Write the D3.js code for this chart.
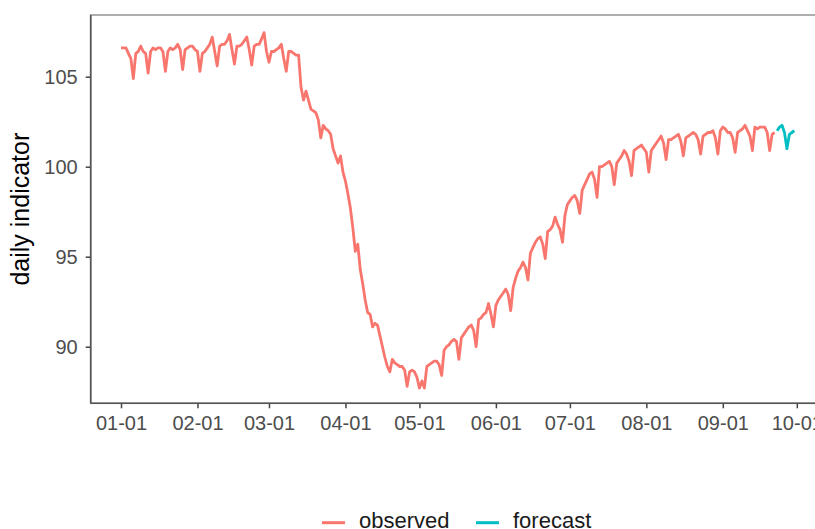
<!DOCTYPE html>
<html>
<head>
<meta charset="utf-8">
<script src="https://cdn.jsdelivr.net/npm/d3@7"></script>
<style>
  body { margin: 0; background: #fff; }
  svg { display: block; font-family: "Liberation Sans", Arial, sans-serif; }
</style>
</head>
<body>
<script>
// day 0 = 2020-01-01
var startDate = Date.UTC(2020, 0, 1);

var observed = [
  106.6, 106.6, 106.6, 106.3,
  106.0, 104.9, 106.3, 106.4, 106.7, 106.4, 106.3,
  105.2, 106.4, 106.6, 106.5, 106.6, 106.6, 106.4,
  105.3, 106.4, 106.6, 106.5, 106.6, 106.8, 106.5,
  105.4, 106.5, 106.6, 106.7, 106.7, 106.5, 106.4,
  105.3, 106.3, 106.4, 106.6, 106.8, 107.2, 106.4,
  105.6, 106.7, 106.8, 106.8, 107.0, 107.35, 106.5,
  105.7, 106.7, 106.7, 106.8, 107.0, 107.2, 106.5,
  105.65, 106.7, 106.8, 106.8, 107.1, 107.45, 106.4,
  105.8, 106.4, 106.4, 106.5, 106.6, 106.8, 106.0,
  105.3, 106.4, 106.4, 106.3, 106.2, 106.2, 104.4,
  103.7, 104.2, 103.7, 103.2, 103.1, 103.0, 102.6,
  101.6, 102.3, 102.1, 102.0, 101.8, 101.0, 100.6,
  100.2, 100.6, 99.7, 99.2, 98.5, 97.7, 96.6,
  95.3, 95.7, 94.3, 93.5, 92.6, 91.9, 91.8,
  91.1, 91.3, 91.2, 90.6, 90.0, 89.4, 88.9,
  88.6, 89.3, 89.1, 89.0, 88.9, 88.9, 88.7,
  87.8, 88.6, 88.7, 88.6, 88.3, 87.7, 88.1,
  87.7, 88.9, 89.0, 89.1, 89.2, 89.2, 89.0,
  88.4, 89.8, 90.0, 90.1, 90.3, 90.4, 90.3,
  89.3, 90.5, 90.7, 90.9, 91.1, 91.2, 90.9,
  90.0, 91.5, 91.6, 91.8, 91.9, 92.4, 91.8,
  91.1, 92.3, 92.6, 92.8, 93.0, 93.2, 92.9,
  92.0, 93.3, 93.8, 94.2, 94.4, 94.7, 94.4,
  93.7, 95.2, 95.5, 95.8, 96.0, 96.1, 95.7,
  94.9, 96.4, 96.5, 96.7, 97.2, 96.8, 96.5,
  95.8, 97.3, 97.9, 98.1, 98.3, 98.4, 98.1,
  97.4, 98.7, 99.0, 99.3, 99.6, 99.7, 99.3,
  98.3, 100.0, 100.0, 100.1, 100.2, 100.3, 100.0,
  99.0, 100.2, 100.4, 100.6, 100.9, 100.7, 100.3,
  99.5, 100.9, 101.0, 101.1, 101.2, 101.0, 100.8,
  99.7, 100.9, 101.1, 101.3, 101.5, 101.7, 101.3,
  100.4, 101.5, 101.5, 101.6, 101.7, 101.8, 101.4,
  100.6, 101.6, 101.7, 101.8, 101.9, 101.8, 101.5,
  100.7, 101.7, 101.8, 101.9, 101.9, 102.0, 101.6,
  100.7, 102.0, 102.2, 102.1, 101.9, 101.9, 101.6,
  100.8, 101.9, 102.0, 102.1, 102.3, 102.0, 101.7,
  100.9, 102.2, 102.1, 102.2, 102.2, 102.2, 101.9,
  100.9, 101.8, 101.9
];

// forecast starts the day after the last observation
var forecast = [102.0, 102.2, 102.3, 101.9, 101.0, 101.8, 101.9, 102.0];

var yTicks = [90, 95, 100, 105];
var seriesNames = ["observed", "forecast"];
var seriesColors = ["#F8766D", "#00BFC4"];

var W = 815, H = 529;
var panel = {left: 90.7, top: 15, right: 825, bottom: 403.3};

function dayToDate(i) { return new Date(startDate + i * 864e5); }

var obsData = observed.map((v, i) => ({date: dayToDate(i), value: v}));
var fcData = forecast.map((v, i) => ({date: dayToDate(observed.length + i), value: v}));

var x = d3.scaleUtc()
    .domain([new Date(Date.UTC(2020, 0, 1)), new Date(Date.UTC(2020, 9, 1))])
    .range([121, 796.8]);

var y = d3.scaleLinear()
    .domain([90, 105])
    .range([346.7, 76.7]);

var svg = d3.select("body").append("svg")
    .attr("width", W)
    .attr("height", H);

svg.append("rect").attr("width", W).attr("height", H).attr("fill", "#fff");

// panel border
svg.append("rect")
    .attr("x", panel.left)
    .attr("y", panel.top)
    .attr("width", panel.right - panel.left)
    .attr("height", panel.bottom - panel.top)
    .attr("fill", "none")
    .attr("stroke", "#9a9a9a")
    .attr("stroke-width", 1.6);

var line = d3.line()
    .x(d => x(d.date))
    .y(d => y(d.value));

svg.append("path")
    .datum(obsData)
    .attr("fill", "none")
    .attr("stroke", seriesColors[0])
    .attr("stroke-width", 2.8)
    .attr("stroke-linejoin", "round")
    .attr("d", line);

svg.append("path")
    .datum(fcData)
    .attr("fill", "none")
    .attr("stroke", seriesColors[1])
    .attr("stroke-width", 2.8)
    .attr("stroke-linejoin", "round")
    .attr("d", line);

// axes
var xAxis = d3.axisBottom(x)
    .ticks(d3.utcMonth.every(1))
    .tickFormat(d3.utcFormat("%m-%d"))
    .tickSize(5)
    .tickPadding(8);

var yAxis = d3.axisLeft(y)
    .tickValues(yTicks)
    .tickSize(5)
    .tickPadding(8);

var gx = svg.append("g")
    .attr("transform", "translate(0," + panel.bottom + ")")
    .call(xAxis);

var gy = svg.append("g")
    .attr("transform", "translate(" + panel.left + ",0)")
    .call(yAxis);

[gx, gy].forEach(g => {
    g.select(".domain").remove();
    g.selectAll(".tick line").attr("stroke", "#444").attr("stroke-width", 1.5);
    g.selectAll(".tick text")
        .attr("fill", "#4d4d4d")
        .style("font-size", "20px");
});

// axis lines (darker than the border)
svg.append("line")
    .attr("x1", panel.left).attr("x2", panel.left)
    .attr("y1", panel.top).attr("y2", panel.bottom)
    .attr("stroke", "#555").attr("stroke-width", 1.6);
svg.append("line")
    .attr("x1", panel.left).attr("x2", panel.right)
    .attr("y1", panel.bottom).attr("y2", panel.bottom)
    .attr("stroke", "#555").attr("stroke-width", 1.6);

svg.append("text")
    .attr("transform", "translate(28.5," + ((panel.top + panel.bottom) / 2) + ") rotate(-90)")
    .attr("text-anchor", "middle")
    .attr("fill", "#000")
    .style("font-size", "25px")
    .text("daily indicator");

// legend
var legendX = [322, 476];
var legend = svg.append("g")
    .selectAll("g")
    .data(seriesNames)
    .join("g")
    .attr("transform", (d, i) => "translate(" + legendX[i] + ",522.7)");

legend.append("line")
    .attr("x1", 0).attr("x2", 23)
    .attr("stroke", (d, i) => seriesColors[i])
    .attr("stroke-width", 3);

legend.append("text")
    .attr("x", 37)
    .attr("y", 4.8)
    .attr("fill", "#1a1a1a")
    .style("font-size", "22px")
    .text(d => d);
</script>
</body>
</html>
